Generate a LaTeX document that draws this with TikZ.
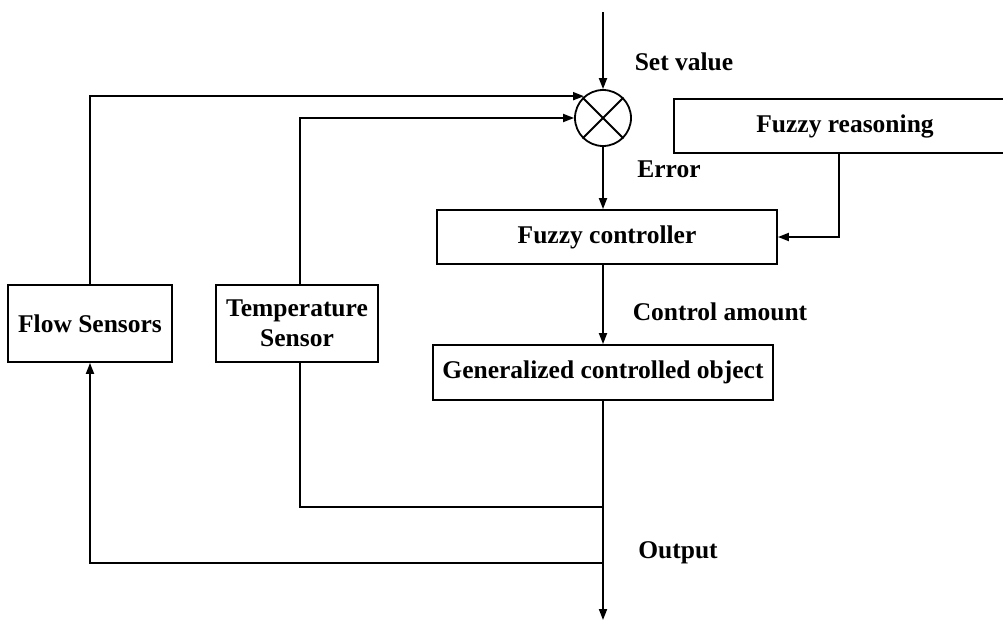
\documentclass[tikz,border=0pt]{standalone}
\usepackage{fontspec}
\setmainfont{Liberation Serif}
\usetikzlibrary{arrows.meta}
\begin{document}
\begin{tikzpicture}[x=1pt,y=-1pt,
  box/.style={draw, line width=1.8pt, inner sep=0pt, align=center},
  lbl/.style={inner sep=0pt},
  conn/.style={line width=1.8pt},
  arr/.style={conn, -{Triangle[length=11pt,width=8pt]}},
  every node/.append style={font=\fontsize{25.5}{30}\selectfont\bfseries}]
\useasboundingbox (0,0) rectangle (1003,621);
% boxes
\node[box, minimum width=342pt, minimum height=54pt] (fr) at (845,126) {Fuzzy reasoning};
\node[box, minimum width=340pt, minimum height=54pt] (fc) at (607,237) {Fuzzy controller};
\node[box, minimum width=340pt, minimum height=55pt] (go) at (603,372.5) {Generalized controlled object};
\node[box, minimum width=164pt, minimum height=77pt] (fs) at (90,323.5) {Flow Sensors};
\node[box, minimum width=162pt, minimum height=77pt] (ts) at (297,323.5) {Temperature\\Sensor};
\node[draw, line width=1.8pt, circle, minimum size=56pt, inner sep=0pt] (sum) at (603,118) {};
\draw[line width=1.8pt] (sum.45) -- (sum.225) (sum.135) -- (sum.315);
% coordinates
\coordinate (top) at (603,12);
\coordinate (out) at (603,620);
\coordinate (tap1) at (603,507);
\coordinate (tap2) at (603,563);
% labels
\node[lbl] (sv) at (684,62) {Set value};
\node[lbl] (err) at (669,169) {Error};
\node[lbl] (ca) at (720,312) {Control amount};
\node[lbl] (op) at (678,553) {Output};
% connectors
\draw[arr] (top) -- (sum.north);
\draw[arr] (sum.south) -- (sum.south |- fc.north);
\draw[arr] (fc.south -| sum.south) -- (go.north);
\draw[arr] ([xshift=-6pt]fr.south) |- (fc.east);
\draw[arr] (fs.north) |- (sum.131);
\draw[arr] ([xshift=3pt]ts.north) |- (sum.west);
\draw[arr] (go.south) -- (out);
\draw[conn] (tap1) -| ([xshift=3pt]ts.south);
\draw[arr] (tap2) -| (fs.south);
\end{tikzpicture}
\end{document}
